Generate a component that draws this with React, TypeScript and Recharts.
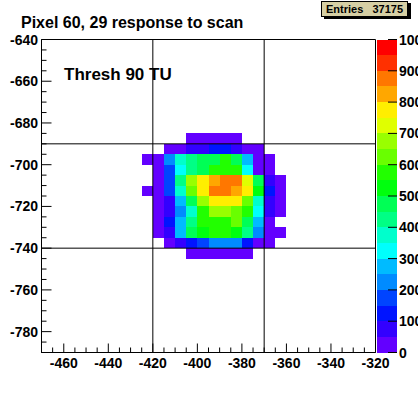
import React from 'react';
import { ComposedChart, XAxis, YAxis, ReferenceArea, ReferenceLine } from 'recharts';

// bin lower edges (5 x 5 bins)
const xLow = [-425, -420, -415, -410, -405, -400, -395, -390, -385, -380, -375, -370, -365];
const yLow = [-690, -695, -700, -705, -710, -715, -720, -725, -730, -735, -740, -745];

// counts per bin, one row per yLow, one column per xLow
const counts = [
  [0, 0, 0, 0, 20, 30, 30, 25, 15, 0, 0, 0, 0],
  [0, 0, 30, 45, 80, 90, 120, 110, 70, 40, 20, 0, 0],
  [15, 30, 225, 370, 420, 470, 480, 560, 495, 280, 45, 20, 0],
  [0, 35, 175, 320, 420, 470, 560, 570, 555, 310, 40, 25, 0],
  [0, 40, 180, 415, 680, 780, 830, 880, 870, 725, 470, 70, 30],
  [20, 35, 170, 370, 620, 790, 880, 890, 840, 770, 520, 110, 35],
  [0, 30, 80, 280, 460, 670, 780, 790, 770, 620, 360, 75, 25],
  [0, 25, 70, 230, 370, 570, 680, 690, 630, 560, 330, 60, 20],
  [0, 25, 120, 270, 420, 560, 570, 580, 620, 480, 270, 30, 0],
  [0, 20, 90, 260, 470, 510, 560, 570, 520, 430, 220, 35, 15],
  [0, 0, 30, 70, 120, 170, 240, 230, 220, 110, 40, 20, 0],
  [0, 0, 0, 0, 20, 35, 40, 35, 30, 20, 0, 0, 0],
];

const xTicks = [
  -470, -465, -460, -455, -450, -445, -440, -435, -430, -425, -420, -415, -410, -405, -400, -395,
  -390, -385, -380, -375, -370, -365, -360, -355, -350, -345, -340, -335, -330, -325, -320,
];
const yTicks = [
  -790, -785, -780, -775, -770, -765, -760, -755, -750, -745, -740, -735, -730, -725, -720, -715,
  -710, -705, -700, -695, -690, -685, -680, -675, -670, -665, -660, -655, -650, -645, -640,
];
const zTicks = [0, 100, 200, 300, 400, 500, 600, 700, 800, 900, 1000];
const zLevels = [0, 50, 100, 150, 200, 250, 300, 350, 400, 450, 500, 550, 600, 650, 700, 750, 800, 850, 900, 950];
const gridX = [-420, -370];
const gridY = [-690, -740];

// ROOT "pretty" palette, 20 contours
const palette = [
  '#6300ff', '#3300ff', '#0014ff', '#0044ff', '#008bff', '#00bbff', '#00fffc', '#00ffcc', '#00ff85', '#00ff55',
  '#00ff0e', '#22ff00', '#69ff00', '#99ff00', '#e0ff00', '#ffee00', '#ffa700', '#ff7700', '#ff3000', '#ff0000',
];

const FONT = '"Liberation Sans", Arial, Helvetica, sans-serif';

const colorOf = (v: number) => palette[Math.min(palette.length - 1, Math.floor(v / 50))];

const XTick = (props: any) => {
  const { x, y, payload } = props;
  const v = payload.value;
  const major = v % 20 === 0;
  return (
    <g>
      <line x1={x} x2={x} y1={y} y2={y - (major ? 9 : 5)} stroke="#000" />
      {major && (
        <text x={x} y={y + 15} textAnchor="middle" fontSize={14} fontWeight="bold" fontFamily={FONT} fill="#000">
          {v}
        </text>
      )}
    </g>
  );
};

const YTick = (props: any) => {
  const { x, y, payload } = props;
  const v = payload.value;
  const major = v % 20 === 0;
  return (
    <g>
      <line x1={x} x2={x + (major ? 10 : 5)} y1={y} y2={y} stroke="#000" />
      {major && (
        <text x={x - 3.5} y={y + 5} textAnchor="end" fontSize={14} fontWeight="bold" fontFamily={FONT} fill="#000">
          {v}
        </text>
      )}
    </g>
  );
};

const ZTick = (props: any) => {
  const { x, y, payload } = props;
  return (
    <g>
      <line x1={x} x2={x - 9} y1={y} y2={y} stroke="#000" />
      <text x={x + 2} y={y + 5} textAnchor="start" fontSize={14} fontWeight="bold" fontFamily={FONT} fill="#000">
        {payload.value}
      </text>
    </g>
  );
};

export default function App() {
  const cells: { x: number; y: number; v: number }[] = [];
  counts.forEach((row, r) =>
    row.forEach((v, c) => {
      if (v > 0) cells.push({ x: xLow[c], y: yLow[r], v });
    })
  );

  return (
    <div
      style={{
        position: 'absolute',
        left: 0,
        top: 0,
        width: 418,
        height: 393,
        background: '#fff',
        fontFamily: FONT,
        overflow: 'hidden',
      }}
    >
      <ComposedChart width={418} height={393} margin={{ top: 39.5, right: 42.5, bottom: 10.5, left: 0 }}>
        <XAxis
          type="number"
          dataKey="x"
          domain={[-470, -320]}
          ticks={xTicks}
          interval={0}
          tickSize={0}
          tickMargin={0}
          height={30}
          axisLine={{ stroke: '#000' }}
          tick={(p: any) => <XTick {...p} />}
          allowDataOverflow
        />
        <YAxis
          type="number"
          dataKey="y"
          domain={[-790, -640]}
          ticks={yTicks}
          interval={0}
          tickSize={0}
          tickMargin={0}
          width={41.5}
          axisLine={{ stroke: '#000' }}
          tick={(p: any) => <YTick {...p} />}
          allowDataOverflow
        />
        {cells.map((d) => (
          <ReferenceArea
            key={`${d.x}_${d.y}`}
            x1={d.x}
            x2={d.x + 5}
            y1={d.y}
            y2={d.y + 5}
            fill={colorOf(d.v)}
            fillOpacity={1}
            stroke="none"
            shapeRendering="crispEdges"
            ifOverflow="visible"
          />
        ))}
        {gridX.map((x) => (
          <ReferenceLine key={`gx${x}`} x={x} stroke="#000" strokeWidth={1} />
        ))}
        {gridY.map((y) => (
          <ReferenceLine key={`gy${y}`} y={y} stroke="#000" strokeWidth={1} />
        ))}
        <ReferenceArea x1={-470} x2={-320} y1={-790} y2={-640} fill="none" stroke="#000" strokeWidth={1} fillOpacity={0} ifOverflow="visible" />
      </ComposedChart>

      <div style={{ position: 'absolute', left: 377, top: 0 }}>
        <ComposedChart width={41} height={393} margin={{ top: 39.5, right: 0, bottom: 40.5, left: 0 }}>
          <XAxis type="number" dataKey="x" domain={[0, 1]} hide allowDataOverflow />
          <YAxis
            type="number"
            dataKey="z"
            orientation="right"
            domain={[0, 1000]}
            ticks={zTicks}
            interval={0}
            tickSize={0}
            tickMargin={0}
            width={21}
            axisLine={false}
            tick={(p: any) => <ZTick {...p} />}
            allowDataOverflow
          />
          {zLevels.map((z, i) => (
            <ReferenceArea
              key={`z${z}`}
              x1={0}
              x2={1}
              y1={z}
              y2={z + 50}
              fill={palette[i]}
              fillOpacity={1}
              stroke="none"
              shapeRendering="crispEdges"
              ifOverflow="visible"
            />
          ))}
        </ComposedChart>
      </div>

      <svg
        width={418}
        height={393}
        style={{ position: 'absolute', left: 0, top: 0, pointerEvents: 'none' }}
      >
        <text x={21} y={28} fontSize={16} fontWeight="bold" fontFamily={FONT} fill="#000">
          Pixel 60, 29 response to scan
        </text>
        <text x={64} y={80} fontSize={17} fontWeight="bold" fontFamily={FONT} fill="#000">
          Thresh 90 TU
        </text>
        <rect x={324} y={3} width={87} height={16} fill="#000" />
        <rect x={321.5} y={1.5} width={86} height={15} fill="#d6cfa4" stroke="#000" />
        <text x={326} y={13} fontSize={11} fontWeight="bold" fontFamily={FONT} fill="#000">
          Entries
        </text>
        <text x={403} y={13} textAnchor="end" fontSize={11} fontWeight="bold" fontFamily={FONT} fill="#000">
          37175
        </text>
      </svg>
    </div>
  );
}
